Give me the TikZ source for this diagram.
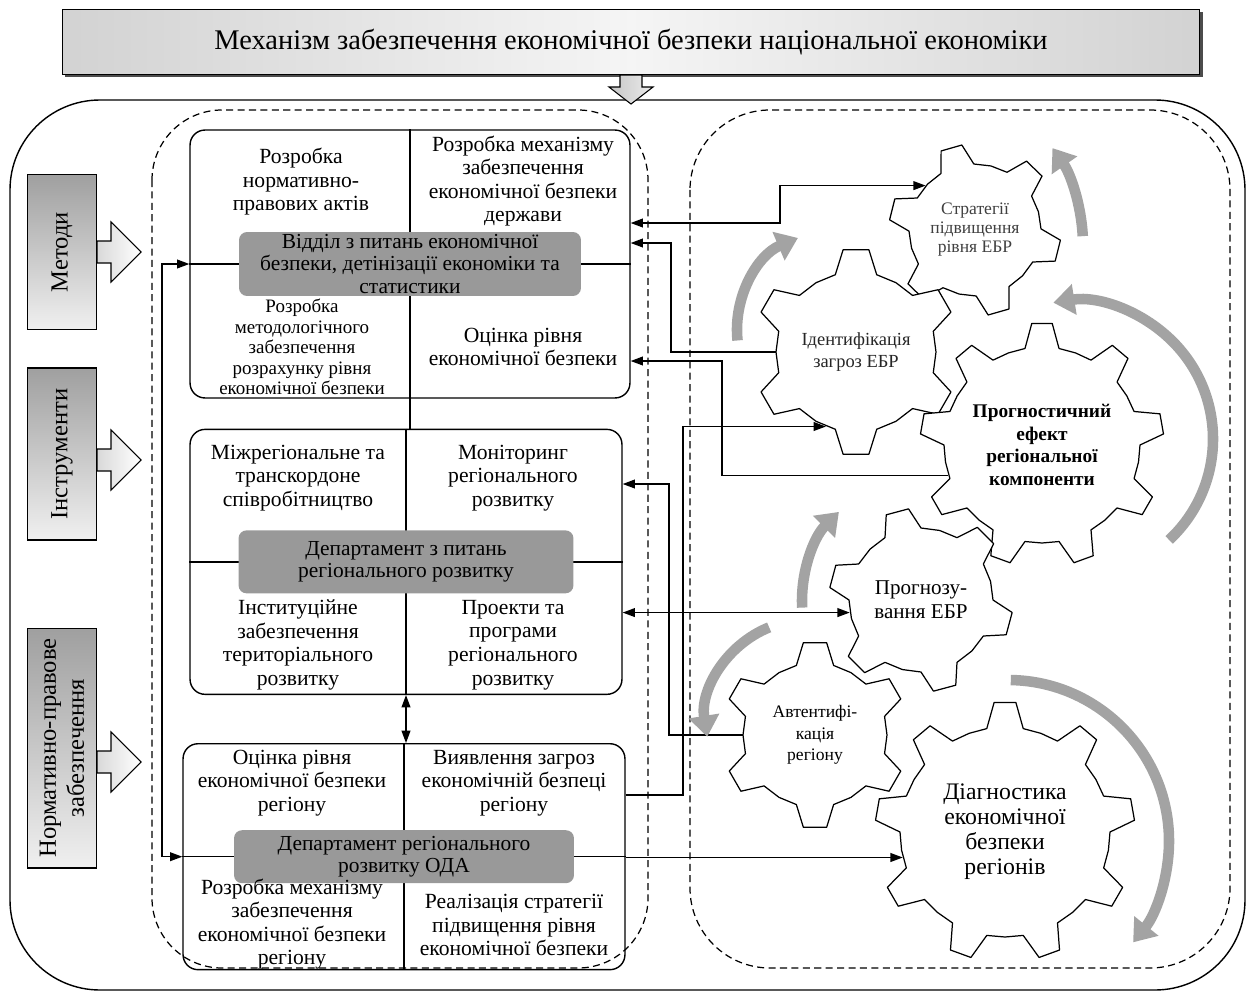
\documentclass[tikz,border=0pt]{standalone}
\usepackage{fontspec}
\setmainfont{Liberation Serif}
\usetikzlibrary{arrows.meta, positioning, calc, shadows}

\definecolor{deptgray}{gray}{0.6}
\definecolor{spingray}{gray}{0.64}

% gear: name, centre, inner r, outer r, teeth, first tooth, text options, text
\newcommand{\drawgear}[8]{%
  \coordinate (#1-c) at (#2);
  \pgfmathsetmacro{\gearpitch}{360/#5}
  \filldraw[gearline] ([shift={(#6-0.5*\gearpitch:#3)}]#1-c)
    \foreach \tn [evaluate=\tn as \ang using #6+(\tn-1)*\gearpitch] in {1,...,#5} {
      -- ([shift={(\ang-0.25*\gearpitch:#3)}]#1-c)
      -- ([shift={(\ang-0.12*\gearpitch:#4)}]#1-c)
      -- ([shift={(\ang+0.12*\gearpitch:#4)}]#1-c)
      -- ([shift={(\ang+0.25*\gearpitch:#3)}]#1-c)
      -- ([shift={(\ang+0.5*\gearpitch:#3)}]#1-c)
    } -- cycle;
  \node[geartext, minimum size=2*#3*0.02cm, #7] (#1) at (#1-c) {#8};
}

% block arrow to the right of a side label
\newcommand{\sidearrow}[2]{%
  \draw[sidearr] ($(#1.south)+(0,#2-11)$) -- ++(14,0) -- ++(0,-19) -- ++(30,30)
    -- ++(-30,30) -- ++(0,-19) -- ++(-14,0) -- cycle;
}

\begin{document}
\begin{tikzpicture}[x=0.02cm, y=-0.02cm,
    >={Triangle[length=7pt, width=5pt]},
    title/.style={draw, line width=0.6pt, minimum width=22.76cm, minimum height=1.3cm,
      left color=gray!35, right color=gray!35, middle color=gray!8,
      drop shadow={shadow xshift=1.5pt, shadow yshift=-1.5pt, fill=black!70, opacity=1},
      font=\fontsize{16.2}{19}\selectfont},
    side/.style={draw, line width=0.6pt, rotate=90, top color=gray!75, bottom color=gray!12,
      align=center, inner sep=0, font=\fontsize{14}{16}\selectfont},
    sidearr/.style={draw, line width=0.6pt, left color=gray!30, right color=white},
    block/.style={draw, line width=0.8pt, rounded corners=0.3cm, inner sep=0},
    dept/.style={fill=deptgray, rounded corners=0.16cm, align=center, inner xsep=2pt,
      inner ysep=0pt, font=\fontsize{12.2}{12.8}\selectfont},
    quad/.style={align=center, inner sep=0, font=\fontsize{12.3}{13.4}\selectfont},
    zone/.style={draw, line width=0.7pt, dash pattern=on 4pt off 2.5pt},
    geartext/.style={circle, align=center, inner sep=0},
    gearline/.style={draw, fill=white, line width=0.7pt, line join=round},
    conn/.style={line width=0.8pt},
    spin/.style={spingray, line width=6pt, -{Triangle[length=12pt, width=17pt]}}
  ]
  \useasboundingbox (0,0) rectangle (1255,994);

  % frames
  \draw[line width=0.8pt, rounded corners=1.8cm] (10,100) rectangle (1245,990);
  \draw[zone, rounded corners=1.4cm] (152,110) rectangle (648,968);
  \draw[zone, rounded corners=1.6cm] (690,110) rectangle (1230,968);

  % heading
  \node[title] (head) at (631,42) {Механізм забезпечення економічної безпеки національної економіки};
  \draw[sidearr, left color=gray!45, right color=gray!15] ($(head.south)+(-11,0)$) -- ++(0,12) -- ++(-11,0)
    -- ++(22,17) -- ++(22,-17) -- ++(-11,0) -- ++(0,-12) -- cycle;

  % side labels
  \node[side, minimum width=3.1cm, minimum height=1.38cm] (meth) at (62,252) {Методи};
  \node[side, minimum width=3.44cm, minimum height=1.38cm] (instr) at (62,454) {Інструменти};
  \node[side, minimum width=4.8cm, minimum height=1.38cm] (norm) at (62,748) {Нормативно-правове\\забезпечення};
  \sidearrow{meth}{0}
  \sidearrow{instr}{6}
  \sidearrow{norm}{14}

  % departments
  \node[block, minimum width=8.8cm, minimum height=5.36cm] (top) at (410,264) {};
  \node[block, minimum width=8.64cm, minimum height=5.3cm, below=0.6cm of top, xshift=-0.08cm] (mid) {};
  \node[block, minimum width=8.84cm, minimum height=4.52cm, below=0.96cm of mid, xshift=-0.04cm] (bot) {};

  \draw[conn] (top.north) -- (top.south) (top.west) -- (top.east);
  \draw[conn] (mid.north) -- (mid.south) (mid.west) -- (mid.east);
  \draw[conn] (bot.north) -- (bot.south) (bot.west) -- (bot.east);

  \node[dept, minimum width=6.84cm, minimum height=1.28cm] (topdept) at (top.center)
    {Відділ з питань економічної\\безпеки, детінізації економіки та\\статистики};
  \node[dept, minimum width=6.7cm, minimum height=1.26cm] (middept) at (mid.center)
    {Департамент з питань\\регіонального розвитку};
  \node[dept, minimum width=6.8cm, minimum height=1.06cm] (botdept) at (bot.center)
    {Департамент регіонального\\розвитку ОДА};

  \node[quad] (t1) at (301,182) {Розробка\\нормативно-\\правових актів};
  \node[quad] (t2) at (523,181) {Розробка механізму\\забезпечення\\економічної безпеки\\держави};
  \node[quad, font=\fontsize{10.8}{11.6}\selectfont] (t3) at (302,347)
    {Розробка\\методологічного\\забезпечення\\розрахунку рівня\\економічної безпеки};
  \node[quad] (t4) at (523,347) {Оцінка рівня\\економічної безпеки};

  \node[quad] (m1) at (298,478) {Міжрегіональне та\\транскордоне\\співробітництво};
  \node[quad] (m2) at (513,478) {Моніторинг\\регіонального\\розвитку};
  \node[quad] (m3) at (298,645) {Інституційне\\забезпечення\\територіального\\розвитку};
  \node[quad] (m4) at (513,645) {Проекти та\\програми\\регіонального\\розвитку};

  \node[quad] (b1) at (292,783) {Оцінка рівня\\економічної безпеки\\регіону};
  \node[quad] (b2) at (514,783) {Виявлення загроз\\економічній безпеці\\регіону};
  \node[quad] (b3) at (292,924) {Розробка механізму\\забезпечення\\економічної безпеки\\регіону};
  \node[quad] (b4) at (514,925) {Реалізація стратегії\\підвищення рівня\\економічної безпеки};

  \draw[conn] (top.south) -- (top.south |- mid.north);
  \draw[conn, <->] (mid.south) -- (mid.south |- bot.north);
  \coordinate (lbar) at (162,560);
  \draw[conn, <->] (top.west) -| (lbar) |- (bot.west);

  % gears
  \drawgear{strat}{975,230}{66}{86}{6}{14}{font=\fontsize{10}{10.8}\selectfont, text=black!75}
    {Стратегії\\підвищення\\рівня ЕБР}
  \drawgear{ident}{856,352}{80}{103}{6}{30}{font=\fontsize{10.5}{12.5}\selectfont, text=black!85}
    {Ідентифікація\\загроз ЕБР}
  \drawgear{progn}{1042,445}{98}{122}{9}{-90}{font=\fontsize{11}{13}\selectfont\bfseries}
    {Прогностичний\\ефект\\регіональної\\компоненти}
  \drawgear{progz}{921,600}{72}{92}{6}{15}{font=\fontsize{12}{13.6}\selectfont}
    {Прогнозу-\\вання ЕБР}
  \drawgear{auth}{815,735}{72}{93}{6}{90}{font=\fontsize{10}{12.2}\selectfont}
    {Автентифі-\\кація\\регіону}
  \drawgear{diag}{1005,832}{105}{130}{9}{-90}{font=\fontsize{13.5}{14.2}\selectfont}
    {Діагностика\\економічної\\безпеки\\регіонів}

  % links between departments and gears
  \coordinate (c1) at (780,223);
  \draw[conn, <->] (top.east |- c1) -- (c1) |- (strat.138);
  \coordinate (c2) at (671,243);
  \draw[conn, ->] (ident.west) -| (c2) -- (top.east |- c2);
  \coordinate (c3) at (722,361);
  \draw[conn, ->] (progn.198) -| (c3) -- (top.east |- c3);
  \coordinate (c4) at (683,795);
  \draw[conn, ->] (bot.east |- c4) -- (c4) |- (ident.248);
  \coordinate (c5) at (669,484);
  \draw[conn, ->] (auth.west) -| (c5) -- (mid.east |- c5);
  \draw[conn, <->] (mid.east |- progz.190) -- (progz.190);
  \draw[conn, ->] (bot.east |- diag.194) -- (diag.194);

  % rotation arrows
  \draw[spin] ($(837,330)+(-186:100)$) arc[start angle=-186, end angle=-113, radius=100];
  \draw[spin] ($(914,245)+(-3:169)$) arc[start angle=-3, end angle=-35, radius=169];
  \draw[spin] ($(1075,439)+(47:138)$) arc[start angle=47, end angle=-99, radius=138];
  \draw[spin] ($(928,601)+(-183:126)$) arc[start angle=-183, end angle=-135, radius=126];
  \draw[spin] ($(807,721)+(-112:101)$) arc[start angle=-112, end angle=-189, radius=101];
  \draw[spin] ($(1008,841)+(-89:161)$) arc[start angle=-89, end angle=39, radius=161];
\end{tikzpicture}
\end{document}
